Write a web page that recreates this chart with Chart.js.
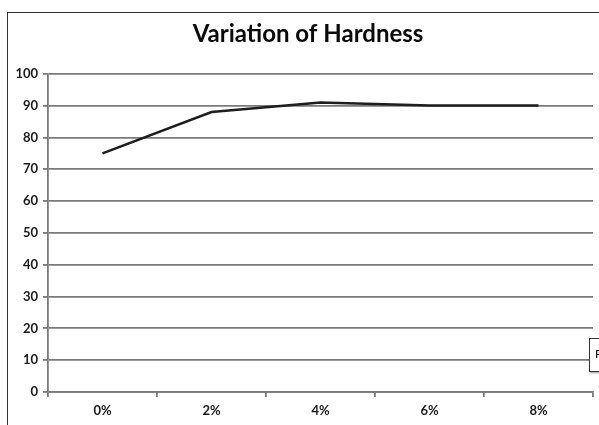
<!DOCTYPE html>
<html>
<head>
<meta charset="utf-8">
<script src="https://cdn.jsdelivr.net/npm/chart.js@4"></script>
<style>
  html, body { margin: 0; padding: 0; background: #fff; overflow: hidden; }
  #wrap { position: relative; width: 599px; height: 425px; overflow: hidden; }
  #frame { position: absolute; left: 7px; top: 12px; width: 700px; height: 500px; border: 1.5px solid #333; }
  #note { position: absolute; left: 589px; top: 338px; width: 80px; height: 32px; border: 1px solid #333;
          background: #fff; font: 12px "Lato", sans-serif; line-height: 30px; padding-left: 5px; box-shadow: 1px 1px 2px #999; }
  canvas { position: absolute; left: 0; top: 0; }
</style>
</head>
<body>
<div id="wrap">
  <div id="frame"></div>
  <canvas id="hardnessChart" width="616" height="425"></canvas>
  <div id="note">Percentage</div>
</div>
<script>
// Chart data
const categories = ['0%', '2%', '4%', '6%', '8%'];
const hardness = [75, 88, 91, 90, 90];
const yTicks = [0, 10, 20, 30, 40, 50, 60, 70, 80, 90, 100];

const tickFont = { family: 'Lato', size: 13, weight: 'bold' };

// the original frame runs past the right edge of the picture, so the canvas does too;
// an empty right axis keeps the plot inside the window while the title centres on the full frame
const ctx = document.getElementById('hardnessChart').getContext('2d');
const hardnessChart = new Chart(ctx, {
  type: 'line',
  data: {
    labels: categories,
    datasets: [{
      label: 'Hardness',
      data: hardness,
      borderColor: '#1e1e1e',
      borderWidth: 2.5,
      pointRadius: 0,
      tension: 0,
      fill: false
    }]
  },
  options: {
    responsive: false,
    animation: false,
    layout: { padding: 0 },
    plugins: {
      legend: { display: false },
      tooltip: { enabled: false },
      title: {
        display: true,
        text: 'Variation of Hardness',
        color: '#0a0a0a',
        font: { family: 'Lato', size: 24, weight: 'bold' },
        padding: { top: 20, bottom: 25 }
      }
    },
    scales: {
      x: {
        offset: true,
        grid: { display: true, drawOnChartArea: false, offset: true, color: '#7a7a7a', lineWidth: 1.8, tickLength: 5 },
        border: { color: '#7a7a7a', width: 1.8 },
        ticks: { color: '#1a1a1a', font: tickFont, padding: 6 },
        afterFit: scale => { scale.height = 33; }
      },
      y: {
        min: 0,
        max: 100,
        afterBuildTicks: scale => { scale.ticks = yTicks.map(v => ({ value: v })); },
        grid: { color: '#7a7a7a', lineWidth: 1.8, tickLength: 5 },
        border: { color: '#7a7a7a', width: 1.8 },
        ticks: { color: '#1a1a1a', font: tickFont, padding: 5 },
        afterFit: scale => { scale.width = 48; }
      },
      spacer: {
        type: 'linear',
        position: 'right',
        min: 0,
        max: 100,
        grid: { drawOnChartArea: false, drawTicks: false },
        border: { display: false },
        ticks: { display: false },
        afterFit: scale => { scale.width = 23; }
      }
    }
  }
});
</script>
</body>
</html>
